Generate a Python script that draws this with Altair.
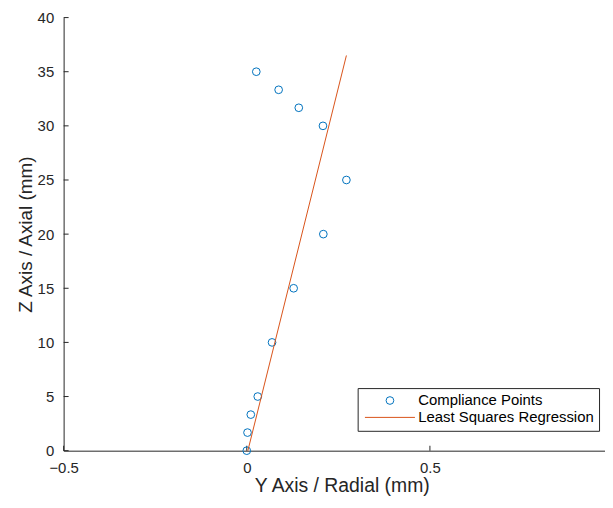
import altair as alt
import pandas as pd

# Data
radial = [0.000, 0.002, 0.011, 0.030, 0.069, 0.128, 0.209, 0.272, 0.208, 0.142, 0.087, 0.026]
axial = [0.0, 1.67, 3.33, 5.0, 10.0, 15.0, 20.0, 25.0, 30.0, 31.67, 33.33, 35.0]
fit_radial = [0.003, 0.272]
fit_axial = [0.0, 36.5]
series = ["Compliance Points", "Least Squares Regression"]
x_ticks = [-0.5, 0, 0.5]
y_ticks = [0, 5, 10, 15, 20, 25, 30, 35, 40]

pts = pd.DataFrame({"r": radial, "z": axial, "s": series[0]})
fit = pd.DataFrame({"r": fit_radial, "z": fit_axial, "s": series[1]})
xt = pd.DataFrame({"r": x_ticks})
yt = pd.DataFrame({"z": y_ticks})

FONT = "Liberation Sans"
INK = "#262626"
BLUE = "#0072BD"
ORANGE = "#D95319"
W, H = 545, 436
TICK = 5

xscale = alt.Scale(domain=[-0.5, 0.978], nice=False, zero=False)
yscale = alt.Scale(domain=[0, 40], nice=False, zero=False)

legend = alt.Legend(
    title=None, orient="none", legendX=296, legendY=373,
    padding=5, strokeColor=INK, fillColor="white", cornerRadius=0,
    labelFont=FONT, labelFontSize=15, labelColor="#000000", labelLimit=400,
    symbolSize=60, symbolStrokeWidth=1, symbolOffset=20, labelOffset=21,
    rowPadding=1,
)
color = alt.Color("s:N", scale=alt.Scale(domain=series, range=[BLUE, ORANGE]), legend=legend)
shape = alt.Shape("s:N", scale=alt.Scale(domain=series, range=["circle", "M-6.5,0H6.5"]), legend=legend)

x_axis = alt.Axis(
    values=x_ticks, orient="bottom", ticks=False, tickSize=0, grid=False,
    domainColor=INK, domainWidth=1, labelColor=INK, labelFont=FONT, labelFontSize=15,
    labelPadding=10, labelFlush=False, labelOverlap=False, format="~g",
    title="Y Axis / Radial (mm)", titleFont=FONT, titleFontSize=19.5,
    titleFontWeight="normal", titleColor=INK, titlePadding=1, titleX=280,
)
y_axis = alt.Axis(
    values=y_ticks, orient="left", ticks=False, tickSize=0, grid=False,
    domainColor=INK, domainWidth=1, labelColor=INK, labelFont=FONT, labelFontSize=15,
    labelPadding=10, labelFlush=False, labelOverlap=False,
    title="Z Axis / Axial (mm)", titleFont=FONT, titleFontSize=19,
    titleFontWeight="normal", titleColor=INK, titlePadding=2,
)

X = lambda: alt.X("r:Q", scale=xscale, axis=x_axis)
Y = lambda: alt.Y("z:Q", scale=yscale, axis=y_axis)

# inward tick marks (MATLAB style)
x_tick_marks = alt.Chart(xt).mark_tick(
    color=INK, orient="vertical", size=TICK, thickness=1, opacity=1
).encode(x=X(), y=alt.value(H - TICK / 2))
y_tick_marks = alt.Chart(yt).mark_tick(
    color=INK, orient="horizontal", size=TICK, thickness=1, opacity=1
).encode(y=Y(), x=alt.value(TICK / 2))

points = alt.Chart(pts).mark_point(filled=False, size=60, strokeWidth=1, opacity=1).encode(
    x=X(), y=Y(), color=color, shape=shape,
)

line = alt.Chart(fit).mark_line(strokeWidth=1).encode(
    x=X(), y=Y(), color=color,
)

chart = alt.layer(x_tick_marks, y_tick_marks, points, line).properties(
    width=W, height=H,
    autosize=alt.AutoSizeParams(type="none"),
    padding={"left": 56, "top": 8, "right": 0, "bottom": 46},
    background="white",
).configure_view(stroke=None)

chart.save("out.html", embed_options={"renderer": "svg", "actions": False})
